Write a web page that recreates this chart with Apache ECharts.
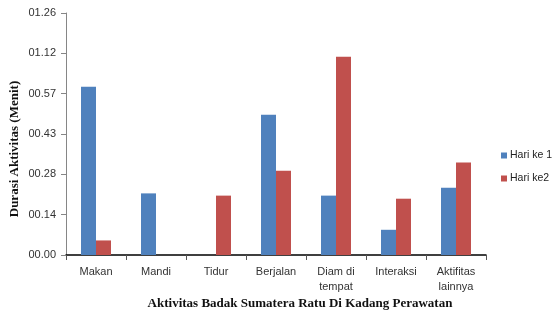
<!DOCTYPE html>
<html>
<head>
<meta charset="utf-8">
<style>
  html, body { margin: 0; padding: 0; background: #fff; }
  #chart { width: 554px; height: 315px; }
</style>
<script src="https://cdn.jsdelivr.net/npm/echarts@6/dist/echarts.min.js"></script>
</head>
<body>
<div id="chart"></div>
<script>
// kategori aktivitas
var categories = ['Makan', 'Mandi', 'Tidur', 'Berjalan', 'Diam di\ntempat', 'Interaksi', 'Aktifitas\nlainnya'];
// durasi dalam detik (label sumbu ditulis menit.detik)
var hari1 = [60.1, 22.0, 0, 50.1, 21.2, 9.0, 24.0];
var hari2 = [5.2, 0, 21.2, 30.1, 70.8, 20.1, 33.0];
var tickLabels = ['00.00', '00.14', '00.28', '00.43', '00.57', '01.12', '01.26'];
var step = 14.4;

(function () {
  var myChart = echarts.init(document.getElementById('chart'));
  var option = {
    animation: false,
    color: ['#4F81BD', '#C0504D'],
    legend: {
      orient: 'vertical',
      left: 501,
      top: 150,
      padding: 0,
      itemWidth: 6,
      itemHeight: 6,
      itemGap: 12,
      icon: 'rect',
      textStyle: { color: '#222', fontSize: 10.5, fontFamily: 'Liberation Sans', padding: [0, 0, 0, -2] },
      data: ['Hari ke 1', 'Hari ke2']
    },
    grid: {
      left: 66,
      right: 68,
      top: 13,
      bottom: 60
    },
    xAxis: {
      type: 'category',
      data: categories,
      axisLine: { lineStyle: { color: '#000', width: 1.5 } },
      axisTick: { show: true, length: 5, lineStyle: { color: '#555' } },
      axisLabel: {
        color: '#333',
        fontSize: 11,
        fontFamily: 'Liberation Sans',
        margin: 9,
        lineHeight: 15
      }
    },
    yAxis: {
      type: 'value',
      min: 0,
      max: step * 6,
      interval: step,
      axisLine: { show: true, lineStyle: { color: '#868686' } },
      axisTick: { show: true, length: 5, lineStyle: { color: '#868686' } },
      splitLine: { show: false },
      axisLabel: {
        color: '#333',
        fontSize: 11,
        fontFamily: 'Liberation Sans',
        margin: 10,
        formatter: function (v) {
          return tickLabels[Math.round(v / step)];
        }
      }
    },
    graphic: [
      {
        type: 'text',
        x: 15,
        y: 149,
        rotation: Math.PI / 2,
        style: {
          text: 'Durasi Aktivitas (Menit)',
          font: 'bold 13px "Liberation Serif"',
          fill: '#111',
          align: 'center',
          verticalAlign: 'middle'
        }
      },
      {
        type: 'text',
        x: 300,
        y: 304,
        style: {
          text: 'Aktivitas Badak Sumatera Ratu Di Kadang Perawatan',
          font: 'bold 13px "Liberation Serif"',
          fill: '#111',
          align: 'center',
          verticalAlign: 'middle'
        }
      }
    ],
    series: [
      {
        name: 'Hari ke 1',
        type: 'bar',
        data: hari1,
        barGap: '0%',
        barCategoryGap: '50%'
      },
      {
        name: 'Hari ke2',
        type: 'bar',
        data: hari2
      }
    ]
  };
  myChart.setOption(option);
  window.addEventListener('resize', () => myChart.resize())
})();
</script>
</body>
</html>
